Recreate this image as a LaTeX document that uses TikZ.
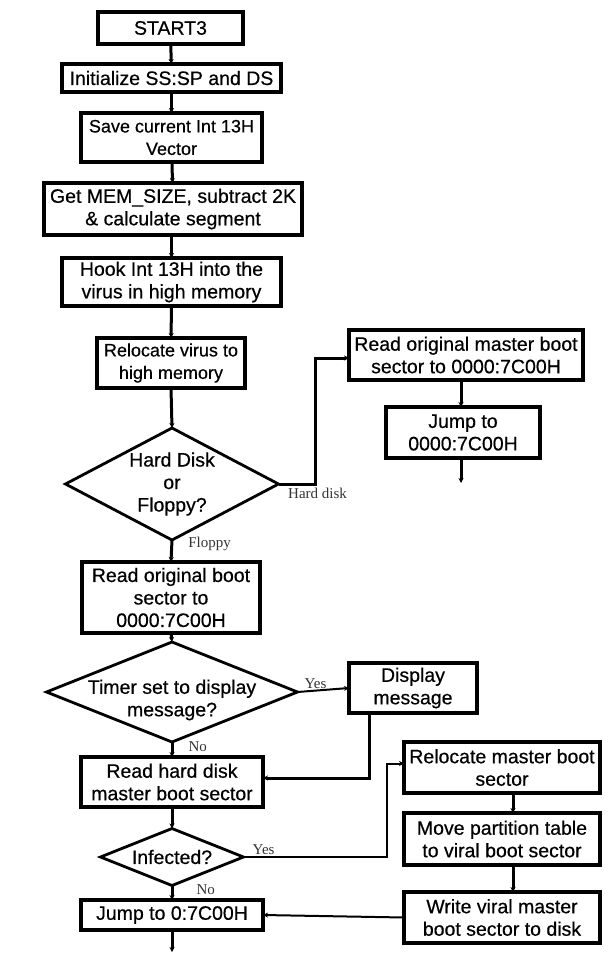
\documentclass[tikz,border=0pt]{standalone}
\usepackage{fontspec}
\setmainfont{Liberation Sans}
\newfontfamily\boxfont{Liberation Sans}[FakeBold=0.5]
\newfontfamily\lblfont{Liberation Serif}
\usetikzlibrary{arrows.meta,shapes.geometric}
\begin{document}
\begin{tikzpicture}[x=1pt,y=-1pt,
  box/.style={draw, line width=3.2pt, inner sep=0pt, outer sep=0pt, align=center,
    font=\boxfont\fontsize{19.5}{22.5}\selectfont},
  smallfont/.style={font=\boxfont\fontsize{18}{22.5}\selectfont},
  dia/.style={draw, shape=diamond, line width=2.8pt, inner sep=0pt, outer sep=0pt},
  dtext/.style={inner sep=0pt, align=center, font=\boxfont\fontsize{19.5}{22.5}\selectfont},
  arr/.style={line width=3pt, -{Stealth[length=5pt,width=5pt]}},
  tarr/.style={line width=2pt, -{Stealth[length=5pt,width=5pt]}},
  lbl/.style={font=\lblfont\fontsize{15}{16}\selectfont, text=black!80, inner sep=1pt}
]
\useasboundingbox (0,0) rectangle (610,964);

% main column
\node[box, minimum width=145pt, minimum height=32pt] (start) at (170.5,28) {START3};
\node[box, minimum width=219pt, minimum height=28pt] (init) at (171.5,78) {Initialize SS:SP and DS};
\node[box, smallfont, minimum width=181pt, minimum height=49pt] (save) at (171.5,137.5) {Save current Int 13H\\Vector};
\node[box, minimum width=258pt, minimum height=52pt] (getmem) at (173,209) {Get MEM\_SIZE, subtract 2K\\\& calculate segment};
\node[box, minimum width=219pt, minimum height=48pt] (hook) at (171.5,282) {Hook Int 13H into the\\virus in high memory};
\node[box, smallfont, minimum width=148pt, minimum height=50pt] (reloc) at (171,363) {Relocate virus to\\high memory};
\node[dia, minimum width=213pt, minimum height=112pt] (d1) at (172,484) {};
\node[dtext] (d1t) at (d1.center) {Hard Disk\\or\\Floppy?};
\node[box, minimum width=178pt, minimum height=71pt] (readboot) at (171,597.5) {Read original boot\\sector to\\0000:7C00H};
\node[dia, minimum width=251pt, minimum height=100pt] (timer) at (172,692) {};
\node[dtext] (timert) at (172,700) {Timer set to display\\message?};
\node[box, minimum width=182pt, minimum height=50pt] (readhard) at (172,782) {Read hard disk\\master boot sector};
\node[dia, minimum width=143pt, minimum height=57pt] (inf) at (172,857) {};
\node[dtext] (inft) at (inf.center) {Infected?};
\node[box, minimum width=182pt, minimum height=30pt] (jump) at (172,915) {Jump to 0:7C00H};

% right column
\node[box, minimum width=234pt, minimum height=50pt] (readmaster) at (466,355) {Read original master boot\\sector to 0000:7C00H};
\node[box, minimum width=154pt, minimum height=51pt] (jump2) at (463,432.5) {Jump to\\0000:7C00H};
\node[box, minimum width=128pt, minimum height=50pt] (display) at (413,688) {Display\\message};
\node[box, minimum width=196pt, minimum height=51pt] (relmaster) at (502,767.5) {Relocate master boot\\sector};
\node[box, minimum width=196pt, minimum height=52pt] (move) at (502,839) {Move partition table\\to viral boot sector};
\node[box, minimum width=196pt, minimum height=51pt] (write) at (502,917.5) {Write viral master\\boot sector to disk};

% coordinates
\coordinate (hd) at (315,484);
\coordinate (e2) at (461,483);
\coordinate (dd) at (369,778);
\coordinate (yy) at (387,857);
\coordinate (rm) at (513,0);
\coordinate (endm) at (172,952);

% connectors
\draw[arr] (start) -- (init);
\draw[arr] (init) -- (save);
\draw[arr] (save) -- (getmem);
\draw[arr] (getmem.south -| hook.north) -- (hook.north);
\draw[arr] (hook) -- (reloc);
\draw[arr] (reloc.south) -- (d1.north);
\draw[arr] (d1.east) -- (hd) |- ([yshift=-3pt]readmaster.west);
\draw[arr] (readmaster.south -| e2) -- (jump2.north -| e2);
\draw[arr] (jump2.south -| e2) -- (e2);
\draw[arr] (d1.south) -- node[lbl, right, pos=0.2, xshift=14pt] (lfl) {Floppy} (readboot.north);
\draw[arr] (readboot.south) -- (timer.north);
\draw[tarr] (timer.east) -- node[lbl, above, pos=0.35] (lyes1) {Yes} (display.west);
\draw[arr] (timer.south) -- node[lbl, right, pos=0.3, xshift=14pt] (lno1) {No} (readhard.north);
\draw[arr] (display.south -| dd) -- (dd) -- (dd -| readhard.east);
\draw[arr] (readhard.south) -- (inf.north);
\draw[tarr] (inf.east) -- node[lbl, above, pos=0.14] (lyes2) {Yes} (yy) |- ([yshift=4pt]relmaster.west);
\draw[arr] (inf.south) -- node[lbl, right, pos=0.3, xshift=22pt] (lno2) {No} (jump.north);
\draw[arr] (relmaster.south -| rm) -- (move.north -| rm);
\draw[arr] (move.south -| rm) -- (write.north -| rm);
\draw[tarr] (write.west) -- (jump.east);
\draw[arr] (jump.south) -- (endm);
\node[lbl, anchor=west] (lhd) at (287,493) {Hard disk};
\end{tikzpicture}
\end{document}
